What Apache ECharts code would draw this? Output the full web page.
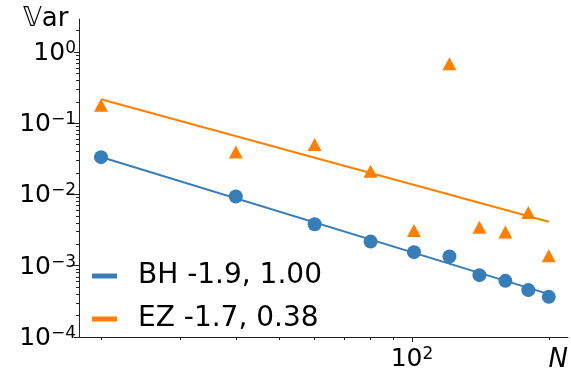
<!DOCTYPE html>
<html>
<head>
<meta charset="utf-8">
<script src="https://cdn.jsdelivr.net/npm/echarts@6/dist/echarts.min.js"></script>
<style>
  html, body { margin: 0; padding: 0; background: #ffffff; }
  #chart { width: 571px; height: 375px; }
</style>
</head>
<body>
<div id="chart"></div>
<script>
// Sample sizes and measured variances
const N = [20, 40, 60, 80, 100, 120, 140, 160, 180, 200];
const bhVar = [0.0334, 0.00935, 0.00383, 0.00218, 0.00155, 0.00135, 0.000738, 0.000614, 0.000455, 0.000366];
const ezVar = [0.179, 0.0393, 0.0501, 0.0212, 0.00311, 0.685, 0.00346, 0.00297, 0.00557, 0.00138];

// Power-law fit lines (end points)
const fitN = [20, 200];
const bhFit = [0.0336, 0.00040];
const ezFit = [0.217, 0.00415];

const legendLabels = ['BH -1.9, 1.00', 'EZ -1.7, 0.38'];
const yTitle = '\u{1D54D}ar';
const xTitle = 'N';

// Axis extents and tick decades
const xRange = [17.86, 224.2];
const yRange = [1e-4, 2.9];
const xTickExps = [2];
const yTickExps = [-4, -3, -2, -1, 0];
const minorMultipliers = [2, 3, 4, 5, 6, 7, 8, 9];

const BLUE = '#377eb8';
const ORANGE = '#ff7f00';
const FONT = 'DejaVu Sans';
const AXIS_COLOR = '#222';
const PLOT = { left: 79, right: 0, top: 19, bottom: 38 };

const lg = Math.log10;

function minorTicks(range) {
  const out = [];
  for (let e = Math.floor(lg(range[0])); e <= Math.ceil(lg(range[1])); e++) {
    minorMultipliers.forEach(m => {
      const v = m * Math.pow(10, e);
      if (v >= range[0] && v <= range[1]) out.push(lg(v));
    });
  }
  return out;
}

function sciLabel(v) {
  const n = Math.round(v);
  return '{b|10}{s|' + (n < 0 ? '\u2212' : '') + Math.abs(n) + '}';
}

const richSci = {
  b: { fontFamily: FONT, fontSize: 25, color: '#000', lineHeight: 28, verticalAlign: 'bottom' },
  s: { fontFamily: FONT, fontSize: 17, color: '#000', lineHeight: 20, verticalAlign: 'bottom', padding: [0, 0, 9, 0] }
};

function pairs(xs, ys) { return xs.map((x, i) => [x, ys[i]]); }

// tick-only value axis in log10 space
function tickAxis(range, gridIndex, position, ticks, len, withLine, withLabels) {
  const ax = {
    type: 'value', gridIndex: gridIndex, position: position, offset: 0,
    min: lg(range[0]), max: lg(range[1]),
    axisLine: { show: withLine, onZero: false, lineStyle: { color: AXIS_COLOR, width: 1 } },
    splitLine: { show: false },
    axisTick: { show: true, inside: false, length: len, lineStyle: { color: AXIS_COLOR, width: 1 }, customValues: ticks },
    axisLabel: { show: false }
  };
  if (withLabels) {
    ax.axisLabel = { show: true, margin: position === 'left' ? 3 : 7, customValues: ticks, formatter: sciLabel, rich: richSci };
  }
  return ax;
}

const chart = echarts.init(document.getElementById('chart'), null, { renderer: 'canvas' });

const xMajor = tickAxis(xRange, 1, 'bottom', xTickExps, 5, true, true);
xMajor.name = xTitle;
xMajor.nameLocation = 'end';
xMajor.nameGap = 0;
xMajor.nameMoveOverlap = false;
xMajor.nameTextStyle = { fontFamily: FONT, fontStyle: 'italic', fontSize: 26, color: '#000', align: 'right', verticalAlign: 'top', padding: [10, 0, 0, 0] };

const yMajor = tickAxis(yRange, 1, 'left', yTickExps, 5, true, true);

chart.setOption({
  animation: false,
  backgroundColor: '#ffffff',
  grid: [
    Object.assign({}, PLOT),
    Object.assign({}, PLOT),
    Object.assign({}, PLOT)
  ],
  graphic: [
    {
      type: 'text', x: 23, y: 19,
      style: { text: yTitle, fontFamily: FONT, fontSize: 26, fill: '#000', align: 'left', verticalAlign: 'middle' }
    }
  ],
  legend: {
    orient: 'vertical',
    left: 87,
    top: 255,
    itemWidth: 25,
    itemHeight: 5,
    itemGap: 11,
    data: legendLabels.map(n => ({ name: n, icon: 'rect' })),
    textStyle: { fontFamily: FONT, fontSize: 28, color: '#000', lineHeight: 32, padding: [0, 0, 0, 16] }
  },
  xAxis: [
    { type: 'log', gridIndex: 0, min: xRange[0], max: xRange[1], show: false },
    xMajor,
    tickAxis(xRange, 2, 'bottom', minorTicks(xRange), 3, false, false)
  ],
  yAxis: [
    { type: 'log', gridIndex: 0, min: yRange[0], max: yRange[1], show: false },
    yMajor,
    tickAxis(yRange, 2, 'left', minorTicks(yRange), 3, false, false)
  ],
  series: [
    {
      name: legendLabels[0], type: 'line', xAxisIndex: 0, yAxisIndex: 0,
      data: pairs(fitN, bhFit), showSymbol: false, symbol: 'none',
      lineStyle: { color: BLUE, width: 2 }, itemStyle: { color: BLUE }, z: 2
    },
    {
      name: legendLabels[1], type: 'line', xAxisIndex: 0, yAxisIndex: 0,
      data: pairs(fitN, ezFit), showSymbol: false, symbol: 'none',
      lineStyle: { color: ORANGE, width: 2 }, itemStyle: { color: ORANGE }, z: 2
    },
    {
      name: 'BH', type: 'scatter', xAxisIndex: 0, yAxisIndex: 0,
      data: pairs(N, bhVar), symbol: 'circle', symbolSize: 14,
      itemStyle: { color: BLUE, opacity: 1 }, z: 3
    },
    {
      name: 'EZ', type: 'scatter', xAxisIndex: 0, yAxisIndex: 0,
      data: pairs(N, ezVar), symbol: 'triangle', symbolSize: [14, 13],
      itemStyle: { color: ORANGE, opacity: 1 }, z: 3
    }
  ]
});
</script>
</body>
</html>
